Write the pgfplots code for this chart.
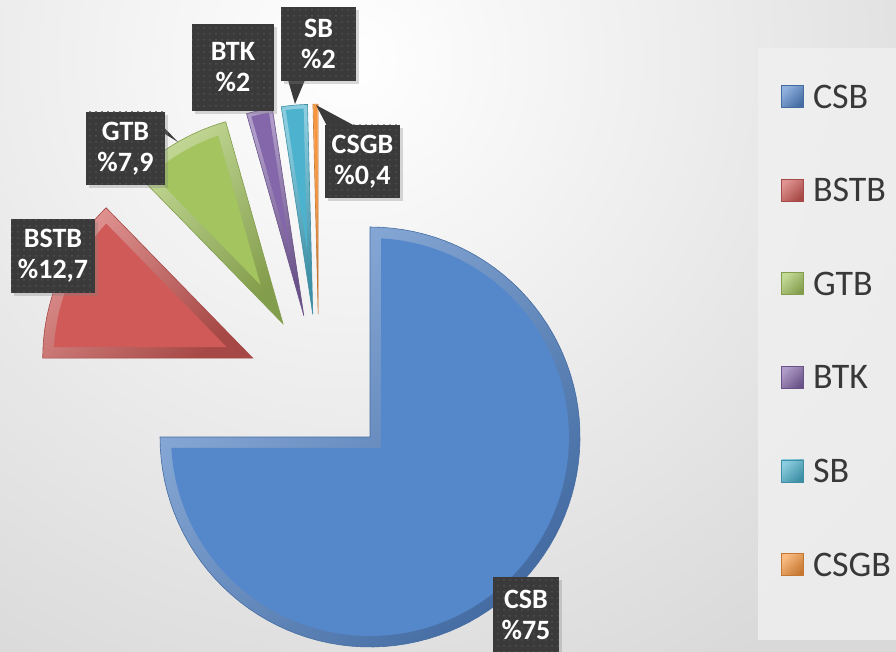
\documentclass[border=0pt]{standalone}
\usepackage{fontspec}
\setmainfont{Carlito}
\usepackage{pgfplots}
\pgfplotsset{compat=1.18}
\usetikzlibrary{shadows,patterns}

\definecolor{csb}{HTML}{5587CB}\colorlet{csbL}{csb!65!white}\colorlet{csbD}{csb!80!black}
\definecolor{bstb}{HTML}{CF5A57}\colorlet{bstbL}{bstb!65!white}\colorlet{bstbD}{bstb!80!black}
\definecolor{gtb}{HTML}{A3C45E}\colorlet{gtbL}{gtb!65!white}\colorlet{gtbD}{gtb!80!black}
\definecolor{btk}{HTML}{8467AA}\colorlet{btkL}{btk!65!white}\colorlet{btkD}{btk!80!black}
\definecolor{sb}{HTML}{4DB2CE}\colorlet{sbL}{sb!65!white}\colorlet{sbD}{sb!80!black}
\definecolor{csgb}{HTML}{F7963E}\colorlet{csgbL}{csgb!65!white}\colorlet{csgbD}{csgb!80!black}
\definecolor{lblfill}{HTML}{3A3A3A}\definecolor{lbldot}{HTML}{505050}

% pie geometry (pixel units of the reference, y up)
\def\Cx{319.1}\def\Cy{265.9}\def\Ex{72}\def\R{210}

\newcommand\pieslice[5]{% #1 cumulative share before, #2 share, #3 base, #4 light, #5 dark
 \pgfmathsetmacro\aS{90-3.6*#1}%
 \pgfmathsetmacro\aE{90-3.6*(#1+#2)}%
 \pgfmathsetmacro\aM{(\aS+\aE)/2}%
 \pgfmathsetmacro\hA{1.8*#2}%
 \pgfmathsetmacro\cx{\Cx+\Ex*cos(\aM)}%
 \pgfmathsetmacro\cy{\Cy+\Ex*sin(\aM)}%
 \pgfmathsetmacro\bw{min(11,0.3*\R*sin(\hA))}%
 \pgfmathsetmacro\dl{asin(\bw/(\R-\bw))}%
 \pgfmathsetmacro\sh{\bw/sin(\hA)}%
 \pgfmathsetmacro\px{\cx+\sh*cos(\aM)}%
 \pgfmathsetmacro\py{\cy+\sh*sin(\aM)}%
 \pgfmathsetmacro\iS{\aS-\dl}%
 \pgfmathsetmacro\iE{\aE+\dl}%
 \pgfmathsetmacro\iR{\R-\bw}%
 \edef\doit{%
  \noexpand\addplot[draw=#5, line width=0.3pt, top color=#4, bottom color=#5, shading angle=45, domain=\aE:\aS, samples=90] ({\cx+\R*cos(x)},{\cy+\R*sin(x)}) -- (axis cs:\cx,\cy) -- cycle;
  \noexpand\addplot[forget plot, draw=none, fill=#3, domain=\iE:\iS, samples=90] ({\cx+\iR*cos(x)},{\cy+\iR*sin(x)}) -- (axis cs:\px,\py) -- cycle;
 }\doit}

\tikzset{lbl/.style={fill=lblfill, postaction={pattern=dots, pattern color=lbldot}, text=white, align=center, inner sep=0pt,
  font=\bfseries\fontsize{14}{15.5}\selectfont, drop shadow={shadow xshift=1.6pt, shadow yshift=-1.6pt, opacity=0.3}}}

\begin{document}
\begin{tikzpicture}
\begin{axis}[x=0.5pt, y=0.5pt, xmin=0, xmax=896, ymin=0, ymax=652, hide axis, scale only axis,
  legend image code/.code={\draw[#1] (0pt,-5.5pt) rectangle (11pt,5.5pt);},
  legend cell align=left,
  legend style={at={(axis cs:781,567.5)}, anchor=north west, draw=none, fill=none, inner sep=0pt,
    row sep=35.2pt, column sep=4.5pt, font=\fontsize{18}{18}\selectfont, text=black!78,
    nodes={inner sep=0pt, text height=11.6pt, text depth=0pt}},
  legend entries={CSB,BSTB,GTB,BTK,SB,CSGB}]
% background
\fill[black!15] (axis cs:0,0) rectangle (axis cs:896,652);
\begin{scope}
\clip (axis cs:0,0) rectangle (axis cs:896,652);
\shade[inner color=white, outer color=black!15] (axis cs:350,592) circle [radius=360pt];
\end{scope}
\fill[black!6, opacity=0.8] (axis cs:758,12) rectangle (axis cs:896,604);
% slices: shares 75, 12.7, 7.9, 2, 2, 0.4
\pieslice{0}{75}{csb}{csbL}{csbD}
\pieslice{75}{12.7}{bstb}{bstbL}{bstbD}
\pieslice{87.7}{7.9}{gtb}{gtbL}{gtbD}
\pieslice{95.6}{2}{btk}{btkL}{btkD}
\pieslice{97.6}{2}{sb}{sbL}{sbD}
\pieslice{99.6}{0.4}{csgb}{csgbL}{csgbD}
% callout pointers
\fill[lblfill] (axis cs:288,572) -- (axis cs:305,572) -- (axis cs:295,548) -- cycle;
\fill[lblfill] (axis cs:327,526) -- (axis cs:355,526) -- (axis cs:316,547) -- cycle;
\fill[lblfill] (axis cs:150,539) -- (axis cs:165,518) -- (axis cs:178,510) -- cycle;
% labels
\node[lbl, minimum width=33pt, minimum height=37.5pt] at (axis cs:526,37.5) {CSB\\\%75};
\node[lbl, minimum width=42pt, minimum height=37pt] at (axis cs:53,396) {BSTB\\\%12,7};
\node[lbl, minimum width=39.5pt, minimum height=36.5pt] at (axis cs:125.5,503.5) {GTB\\\%7,9};
\node[lbl, minimum width=41pt, minimum height=43.5pt] at (axis cs:233,584.5) {BTK\\\%2};
\node[lbl, minimum width=37.5pt, minimum height=37pt] at (axis cs:318.5,608) {SB\\\%2};
\node[lbl, minimum width=37.5pt, minimum height=36.5pt] at (axis cs:362.5,490.5) {CSGB\\\%0,4};
\coordinate (ll) at (axis cs:0,0);
\coordinate (ur) at (axis cs:896,652);
\end{axis}
\pgfresetboundingbox
\path[use as bounding box] (ll) rectangle (ur);
\end{tikzpicture}
\end{document}
